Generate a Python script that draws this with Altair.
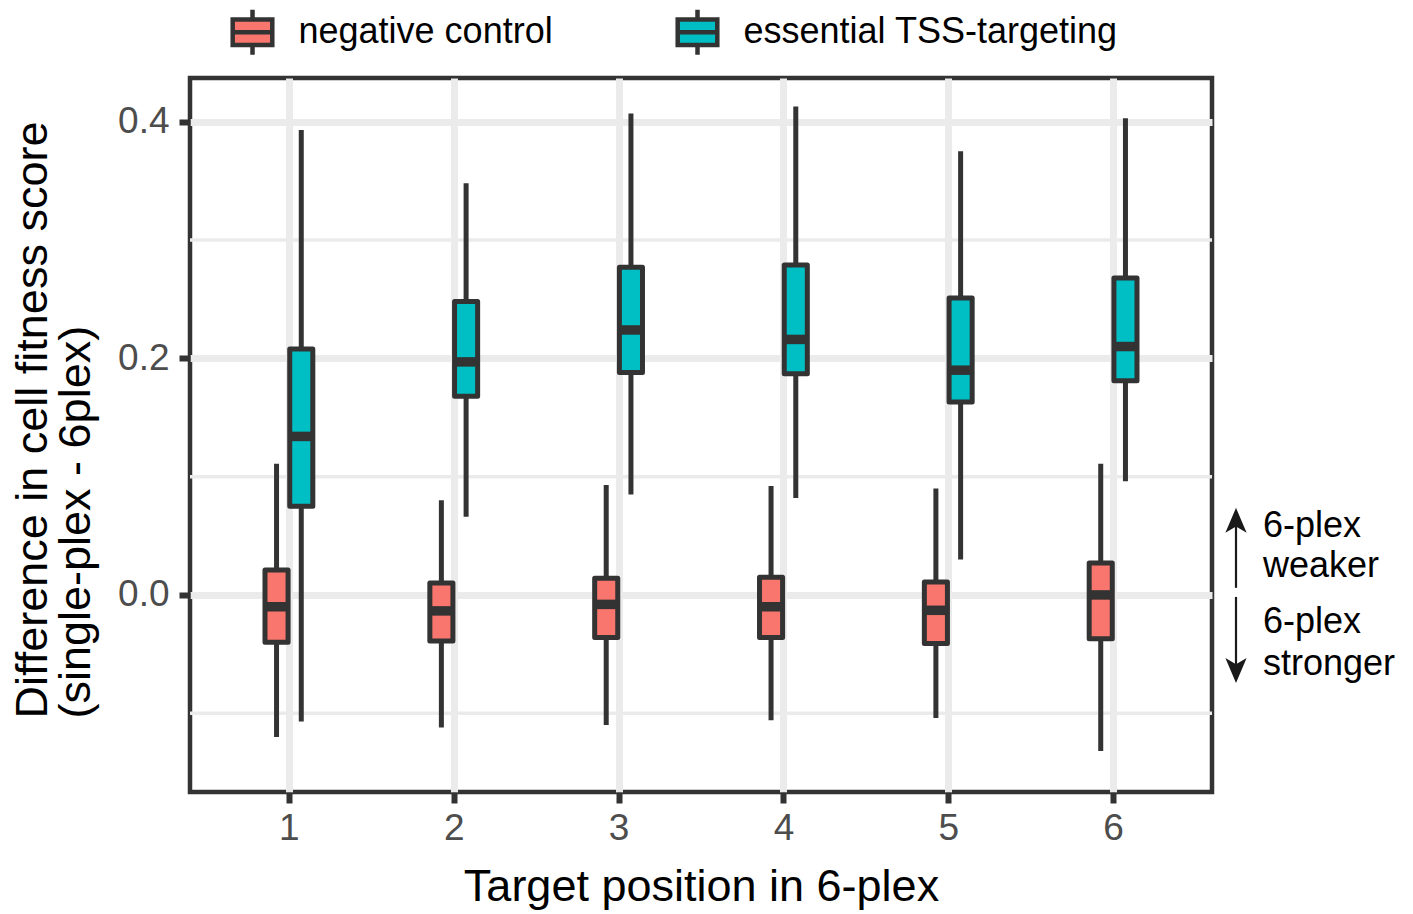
import altair as alt
import pandas as pd

# Target positions within the 6-plex array and the two guide classes
positions = [1, 2, 3, 4, 5, 6]
groups = ["negative control", "essential TSS-targeting"]
colors = ["#F8766D", "#00BFC4"]

# Box-plot summaries (whisker low, Q1, median, Q3, whisker high) per position
neg_low = [-0.120, -0.112, -0.110, -0.106, -0.104, -0.132]
neg_q1 = [-0.040, -0.039, -0.036, -0.036, -0.041, -0.037]
neg_med = [-0.010, -0.0135, -0.008, -0.010, -0.013, 0.000]
neg_q3 = [0.021, 0.010, 0.014, 0.015, 0.011, 0.027]
neg_high = [0.111, 0.080, 0.093, 0.092, 0.090, 0.111]

ess_low = [-0.107, 0.066, 0.085, 0.082, 0.030, 0.096]
ess_q1 = [0.075, 0.168, 0.188, 0.187, 0.163, 0.181]
ess_med = [0.134, 0.197, 0.224, 0.216, 0.190, 0.210]
ess_q3 = [0.208, 0.248, 0.277, 0.279, 0.251, 0.268]
ess_high = [0.393, 0.348, 0.407, 0.413, 0.375, 0.403]

# Minor gridline positions on the y axis
minor_breaks = [-0.1, 0.1, 0.3]

# Side annotation lines and their y positions (data units)
note_labels = ["6-plex", "weaker", "6-plex", "stronger"]
note_y = [0.049, 0.0152, -0.0321, -0.0677]
arrow_from = [0.006, -0.0017]
arrow_to = [0.0736, -0.0744]

rows = []
for g, lo, a, m, b, hi in [
    (groups[0], neg_low, neg_q1, neg_med, neg_q3, neg_high),
    (groups[1], ess_low, ess_q1, ess_med, ess_q3, ess_high),
]:
    for p, v0, v1, v2, v3, v4 in zip(positions, lo, a, m, b, hi):
        rows.append(dict(group=g, pos=p, low=v0, q1=v1, med=v2, q3=v3, high=v4))
df = pd.DataFrame(rows)

FONT = "Liberation Sans"
DARK = "#333333"

x_scale = alt.Scale(domain=[0.4, 6.6], nice=False, zero=False)
y_scale = alt.Scale(domain=[-0.1666, 0.437], nice=False, zero=False)

x_axis = alt.Axis(
    values=positions, format="d", title="Target position in 6-plex",
    grid=True, gridColor="#EBEBEB", gridWidth=7,
    domain=False, tickColor=DARK, tickWidth=6, tickSize=11,
    labelFontSize=37, labelColor="#4D4D4D", labelPadding=7,
    titleFontSize=45, titleColor="black", titleFontWeight="normal",
    titlePadding=18,
)
y_axis = alt.Axis(
    values=[0, 0.2, 0.4], format=".1f",
    title=["Difference in cell fitness score", "(single-plex - 6plex)"],
    grid=True, gridColor="#EBEBEB", gridWidth=7,
    domain=False, tickColor=DARK, tickWidth=6, tickSize=11,
    labelFontSize=37, labelColor="#4D4D4D", labelPadding=10,
    titleFontSize=45, titleColor="black", titleFontWeight="normal",
    titleAngle=270, titleAlign="left", titleBaseline="alphabetic",
    titleX=-144, titleY=640, titleLineHeight=43,
)

legend_symbol = (
    "M-0.88,-0.57H0.88V0.57H-0.88Z M-0.88,0H0.88 M0,-0.57V-1 M0,0.57V1"
)

base = alt.Chart(df).transform_calculate(
    xc="datum.group === 'negative control' ? datum.pos - 0.075 : datum.pos + 0.075"
).transform_calculate(
    xl="datum.xc - 0.07", xr="datum.xc + 0.07"
)

minor = alt.Chart(pd.DataFrame({"v": minor_breaks})).mark_rule(
    color="#EBEBEB", strokeWidth=3.5
).encode(y=alt.Y("v:Q", scale=y_scale, axis=y_axis))

whiskers = base.mark_rule(color=DARK, strokeWidth=5).encode(
    x=alt.X("xc:Q", scale=x_scale, axis=x_axis),
    y=alt.Y("low:Q", scale=y_scale, axis=y_axis),
    y2="high:Q",
)

boxes = base.mark_rect(stroke=DARK, strokeWidth=5, strokeJoin="round").encode(
    x=alt.X("xl:Q", scale=x_scale, axis=x_axis),
    x2="xr:Q",
    y=alt.Y("q1:Q", scale=y_scale, axis=y_axis),
    y2="q3:Q",
    fill=alt.Fill(
        "group:N",
        scale=alt.Scale(domain=groups, range=colors),
        legend=alt.Legend(
            title=None, orient="none", direction="horizontal",
            legendX=37.5, legendY=-71,
            symbolType=legend_symbol, symbolSize=2025,
            symbolStrokeColor=DARK, symbolStrokeWidth=4.5, symbolOpacity=1,
            labelFontSize=36, labelColor="black", labelOffset=21,
            labelLimit=600, columnPadding=115,
        ),
    ),
)

medians = base.mark_rule(color=DARK, strokeWidth=9.5, strokeCap="butt").encode(
    x=alt.X("xl:Q", scale=x_scale, axis=x_axis),
    x2="xr:Q",
    y=alt.Y("med:Q", scale=y_scale, axis=y_axis),
)

notes = alt.Chart(pd.DataFrame({"label": note_labels, "y": note_y})).mark_text(
    align="left", baseline="alphabetic", fontSize=36, color="black"
).encode(
    x=alt.value(1073),
    y=alt.Y("y:Q", scale=y_scale, axis=y_axis),
    text="label:N",
)

shafts = alt.Chart(pd.DataFrame({"y0": arrow_from, "y1": [arrow_to[0] - 0.012, arrow_to[1] + 0.012]})).mark_rule(
    color="#1A1A1A", strokeWidth=2.2
).encode(
    x=alt.value(1046),
    y=alt.Y("y0:Q", scale=y_scale, axis=y_axis),
    y2="y1:Q",
)

head_up = alt.Chart(pd.DataFrame({"y": [arrow_to[0]]})).mark_point(
    shape="M0,0L0.85,2L0,1.5L-0.85,2Z", size=625, filled=True,
    color="#1A1A1A", opacity=1, strokeWidth=0,
).encode(x=alt.value(1046), y=alt.Y("y:Q", scale=y_scale, axis=y_axis))

head_down = alt.Chart(pd.DataFrame({"y": [arrow_to[1]]})).mark_point(
    shape="M0,0L0.85,-2L0,-1.5L-0.85,-2Z", size=625, filled=True,
    color="#1A1A1A", opacity=1, strokeWidth=0,
).encode(x=alt.value(1046), y=alt.Y("y:Q", scale=y_scale, axis=y_axis))

chart = alt.layer(
    minor, whiskers, boxes, medians, shafts, head_up, head_down, notes
).properties(
    width=1022, height=714,
    autosize=alt.AutoSizeParams(type="none"),
    padding={"left": 190, "top": 78, "right": 201, "bottom": 122},
    background="white",
).configure(font=FONT).configure_view(stroke=DARK, strokeWidth=4.5)

chart.save("out.html", embed_options={"renderer": "svg", "actions": False})
